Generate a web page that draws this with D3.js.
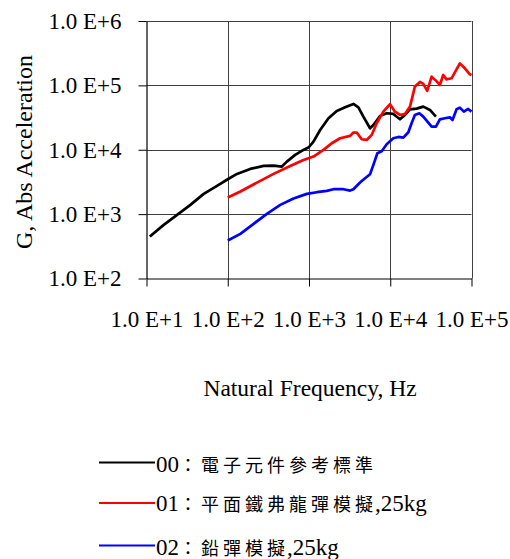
<!DOCTYPE html>
<html>
<head>
<meta charset="utf-8">
<script src="https://cdn.jsdelivr.net/npm/d3@7"></script>
<style>
  html, body { margin: 0; padding: 0; background: #fff; }
  svg { display: block; }
</style>
</head>
<body>
<svg id="chart" width="510" height="559"></svg>
<script>
// Shock response spectra: natural frequency (Hz) vs absolute acceleration (G)
const seriesNames = ["00", "01", "02"];
const seriesLabelsCJK = ["：電子元件參考標準", "：平面鐵弗龍彈模擬", "：鉛彈模擬"];
const seriesSuffix = ["", ",25kg", ",25kg"];
const seriesColors = ["#000000", "#ff0000", "#0000ff"];

const freq00 = [11, 16.3, 23.8, 34.7, 50.6, 73.8, 100, 130, 189, 276, 366, 464, 534, 676, 855, 995, 1135, 1371, 1737, 2198, 2781, 3522, 4055, 4670, 5640, 6200, 7480, 9040, 10900, 13180, 15170, 17500, 21100, 25500, 30800, 36500];
const accel00 = [449, 681, 973, 1392, 2063, 2745, 3484, 4217, 5038, 5610, 5680, 5480, 6550, 8310, 9940, 10940, 13390, 20300, 30800, 40100, 45700, 51500, 45700, 32700, 21600, 24300, 33500, 36900, 36000, 29700, 34700, 42500, 43500, 46800, 41500, 32700];

const freq01 = [100, 143, 229, 366, 587, 855, 1135, 1507, 1906, 2415, 3205, 3522, 3868, 4455, 5130, 5910, 6810, 8220, 9930, 11430, 13180, 15170, 17500, 20100, 23200, 25500, 28500, 32300, 36500, 40800, 44900, 49300, 56800, 71900, 82800, 95400, 100000];
const accel01 = [1808, 2244, 3092, 4217, 5610, 6950, 7830, 9940, 12620, 15100, 16400, 18500, 18500, 14550, 14200, 17000, 25800, 39100, 50900, 39100, 34700, 36000, 46800, 95700, 113000, 105200, 81900, 136700, 118500, 101500, 145000, 124200, 128800, 220000, 184000, 148600, 145000];

const freq02 = [100, 143, 208, 303, 443, 645, 940, 1248, 1656, 2000, 2654, 3205, 3522, 4247, 4900, 5640, 6200, 6940, 7850, 9040, 10900, 12600, 14500, 16700, 18300, 20100, 22800, 25500, 29400, 32300, 36500, 40800, 47000, 54200, 58400, 65500, 71900, 80500, 91000, 100000];
const accel02 = [389, 494, 706, 1009, 1392, 1745, 2063, 2190, 2296, 2437, 2437, 2323, 2437, 3092, 3610, 4165, 5820, 8830, 9480, 12170, 15100, 15800, 15450, 18700, 25800, 34700, 36900, 32700, 26400, 22900, 22900, 29700, 30800, 31900, 29000, 42500, 45200, 39100, 43000, 39100];

const xTicks = [1e1, 1e2, 1e3, 1e4, 1e5];
const yTicks = [1e2, 1e3, 1e4, 1e5, 1e6];
const xTitle = "Natural Frequency, Hz";
const yTitle = "G, Abs Acceleration";

const series = [
  { x: freq00, y: accel00 },
  { x: freq01, y: accel01 },
  { x: freq02, y: accel02 }
];

const svg = d3.select("#chart");
const serif = "'Liberation Serif', 'Times New Roman', serif";
const cjk = "'Noto Sans CJK TC', 'Noto Sans CJK SC', sans-serif";

const plot = { left: 146.5, right: 471.5, top: 21, bottom: 278.5 };

const x = d3.scaleLog().domain([1e1, 1e5]).range([plot.left, plot.right]);
const y = d3.scaleLog().domain([1e2, 1e6]).range([plot.bottom, plot.top]);

const expLabel = v => "1.0 E+" + Math.round(Math.log10(v));

// gridlines
const grid = svg.append("g").attr("stroke", "#404040").attr("stroke-width", 1);
grid.selectAll("line.gx").data(xTicks.slice(1)).join("line")
  .attr("x1", d => Math.round(x(d)) + 0.5).attr("x2", d => Math.round(x(d)) + 0.5)
  .attr("y1", plot.top).attr("y2", plot.bottom);
grid.selectAll("line.gy").data(yTicks.slice(1)).join("line")
  .attr("x1", plot.left).attr("x2", plot.right)
  .attr("y1", d => Math.round(y(d)) + 0.5).attr("y2", d => Math.round(y(d)) + 0.5);

// axes
const yAxis = d3.axisLeft(y).tickValues(yTicks).tickFormat(expLabel)
  .tickSize(8).tickSizeOuter(0).tickPadding(17);
const xAxis = d3.axisBottom(x).tickValues(xTicks).tickFormat(expLabel)
  .tickSize(8).tickSizeOuter(0).tickPadding(24);

const gy = svg.append("g").attr("transform", `translate(${plot.left},0)`).call(yAxis);
const gx = svg.append("g").attr("transform", `translate(0,${plot.bottom})`).call(xAxis);

[gx, gy].forEach(g => {
  g.selectAll("path.domain").attr("stroke", "#000").attr("stroke-width", 1.2);
  g.selectAll(".tick line").attr("stroke", "#000").attr("stroke-width", 1);
  g.selectAll(".tick text").attr("fill", "#000")
    .style("font-family", serif).style("font-size", "23px");
});

// series lines
const line = d3.line().x(d => x(d[0])).y(d => y(d[1])).curve(d3.curveLinear);
svg.append("g").selectAll("path.series").data(series).join("path")
  .attr("class", "series")
  .attr("fill", "none")
  .attr("stroke", (d, i) => seriesColors[i])
  .attr("stroke-width", 2.7)
  .attr("stroke-linejoin", "round")
  .attr("d", d => line(d.x.map((v, i) => [v, d.y[i]])));

// axis titles
svg.append("text")
  .attr("x", (plot.left + plot.right) / 2 + 1).attr("y", 396)
  .attr("text-anchor", "middle")
  .style("font-family", serif).style("font-size", "23.5px")
  .text(xTitle);

svg.append("text")
  .attr("transform", "translate(32,152) rotate(-90)")
  .attr("text-anchor", "middle")
  .style("font-family", serif).style("font-size", "24px")
  .text(yTitle);

// legend
const legendY = [462.5, 503, 545.5];
const legendBaseline = [9, 7.5, 9.5];
const lg = svg.append("g");
seriesNames.forEach((name, i) => {
  const row = lg.append("g").attr("transform", `translate(0,${legendY[i]})`);
  row.append("line")
    .attr("x1", 99).attr("x2", 155).attr("y1", 0).attr("y2", 0)
    .attr("stroke", seriesColors[i]).attr("stroke-width", 2.2);
  const t = row.append("text").attr("x", 156).attr("y", legendBaseline[i]).attr("fill", "#000");
  t.append("tspan").style("font-family", serif).style("font-size", "23px").text(name);
  t.append("tspan").style("font-family", cjk).style("font-size", "18px")
    .style("letter-spacing", "4px").text(seriesLabelsCJK[i]);
  if (seriesSuffix[i]) {
    t.append("tspan").attr("dx", -2).style("font-family", serif).style("font-size", "23px")
      .text(seriesSuffix[i]);
  }
});
</script>
</body>
</html>
